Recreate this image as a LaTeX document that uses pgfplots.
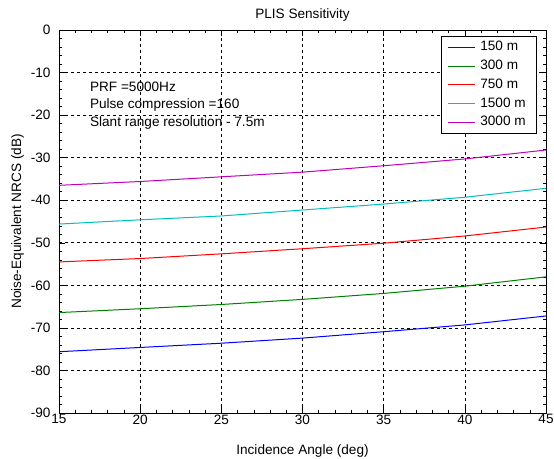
\documentclass[border=0pt]{standalone}
\usepackage{pgfplots}
\pgfplotsset{compat=1.18}
\usepackage{fontspec}
\setmainfont{Liberation Sans}
\definecolor{mblue}{RGB}{0,0,255}
\definecolor{mgreen}{RGB}{0,128,0}
\definecolor{mred}{RGB}{255,0,0}
\definecolor{mcyan}{RGB}{0,191,191}
\definecolor{mmag}{RGB}{191,0,191}
\newcommand{\mfont}{\fontsize{13.6}{16}\selectfont}
\begin{document}
\begin{tikzpicture}
\path[use as bounding box] (-59pt,-45pt) rectangle (495pt,413pt);
\begin{axis}[
    at={(0,0)}, anchor=south west,
    scale only axis,
    width=487pt, height=383pt,
    xmin=15, xmax=45, ymin=-90, ymax=0,
    xtick={15,20,...,45},
    xticklabels={15,20,25,30,35,40,45},
    ytick={-90,-80,...,0},
    yticklabels={-90,-80,-70,-60,-50,-40,-30,-20,-10,0},
    minor x tick num=4,
    minor y tick num=4,
    tick align=inside,
    major tick length=6pt,
    minor tick length=3pt,
    tick style={black, line width=0.5pt},
    xmajorgrids, ymajorgrids,
    major grid style={black, line width=0.6pt, dash pattern=on 3pt off 3pt},
    axis line style={black, line width=0.7pt},
    ticklabel style={font=\mfont},
    xticklabel style={yshift=2pt},
    yticklabel style={xshift=-5pt},
    title={PLIS Sensitivity},
    title style={font=\mfont, at={(0.5,1)}, anchor=base, yshift=6pt},
    xlabel={Incidence Angle (deg)},
    ylabel={Noise-Equivalent NRCS (dB)},
    label style={font=\mfont},
    xlabel style={yshift=-14pt},
    ylabel style={yshift=0pt},
    legend style={at={(0.9815,0.984)}, anchor=north east, line width=0.6pt,
        font=\mfont, row sep=0.7pt, inner xsep=6pt, inner ysep=2pt,
        nodes={inner xsep=5pt, inner ysep=2.5pt, text height=10pt, text depth=3pt},
        cells={anchor=west}},
    legend image code/.code={\draw[#1] (0pt,0pt) -- (27pt,0pt);},
    legend image post style={line width=1.1pt},
    every axis plot/.append style={line width=1pt},
]
\addplot[color=mblue, draw=mblue] coordinates {(15,-75.6) (20,-74.6) (25,-73.6) (30,-72.4) (35,-70.9) (40,-69.3) (45,-67.2)};
\addlegendentry{150 m}
\addplot[color=mgreen, draw=mgreen] coordinates {(15,-66.4) (20,-65.5) (25,-64.5) (30,-63.3) (35,-61.9) (40,-60.2) (45,-58.0)};
\addlegendentry{300 m}
\addplot[color=mred, draw=mred] coordinates {(15,-54.5) (20,-53.7) (25,-52.6) (30,-51.4) (35,-50.1) (40,-48.4) (45,-46.3)};
\addlegendentry{750 m}
\addplot[color=mcyan, draw=mcyan] coordinates {(15,-45.6) (20,-44.6) (25,-43.7) (30,-42.3) (35,-40.9) (40,-39.3) (45,-37.2)};
\addlegendentry{1500 m}
\addplot[color=mmag, draw=mmag] coordinates {(15,-36.5) (20,-35.6) (25,-34.5) (30,-33.4) (35,-31.9) (40,-30.3) (45,-28.2)};
\addlegendentry{3000 m}
\node[anchor=west, font=\mfont, inner sep=0pt] at (axis cs:16.9,-13.4) {PRF =5000Hz};
\node[anchor=west, font=\mfont, inner sep=0pt] at (axis cs:16.9,-17.6) {Pulse compression =160};
\node[anchor=west, font=\mfont, inner sep=0pt] at (axis cs:16.9,-21.9) {Slant range resolution - 7.5m};
\end{axis}
\end{tikzpicture}
\end{document}
